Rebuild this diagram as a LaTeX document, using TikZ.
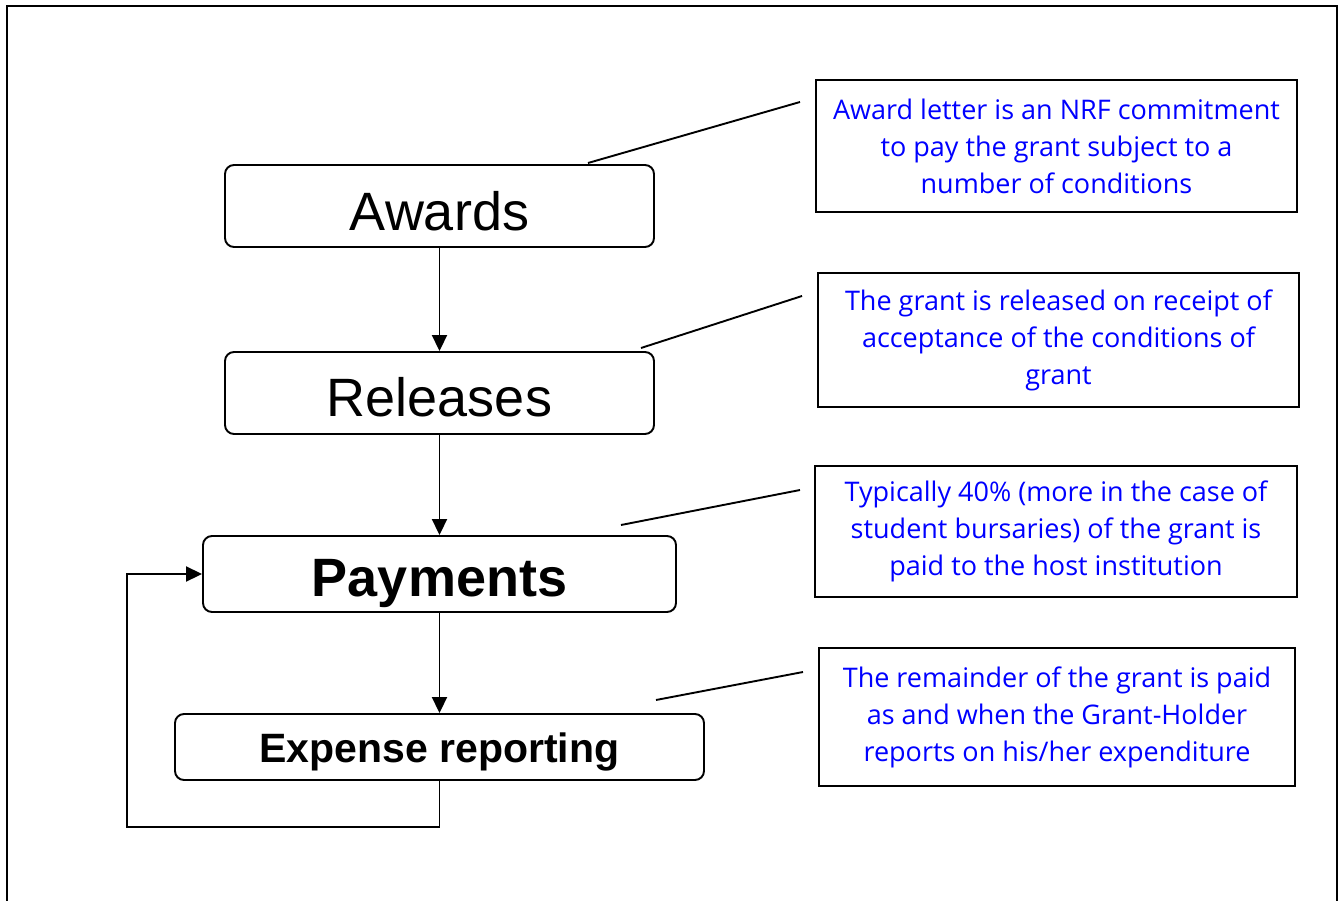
\documentclass[tikz,border=0pt]{standalone}
\usepackage{fontspec}
\setmainfont{Liberation Sans}
\newfontfamily\callfont{Open Sans}
\usetikzlibrary{arrows.meta}
\begin{document}
\begin{tikzpicture}[x=1pt,y=-1pt,
  mainbox/.style={draw, line width=1.9pt, rounded corners=9pt, inner sep=0pt, text depth=0pt},
  note/.style={draw, line width=1.9pt, inner sep=0pt, align=center, text=blue, font=\callfont\fontsize{27}{37}\selectfont},
  arr/.style={-{Triangle[length=16pt,width=15pt]}, line width=1.9pt},
  lead/.style={line width=1.9pt}]
\useasboundingbox (0,0) rectangle (1340,901);
\draw[line width=2.2pt] (7,910) -- (7,6) -- (1337,6) -- (1337,910);

\node[mainbox, minimum width=429pt, minimum height=82pt, text height=49pt, font=\fontsize{54}{60}\selectfont] (aw) at (439.5,206) {Awards};
\node[mainbox, minimum width=429pt, minimum height=82pt, text height=47pt, font=\fontsize{54}{60}\selectfont] (rel) at (439.5,393) {Releases};
\node[mainbox, minimum width=473pt, minimum height=76pt, text height=45pt, font=\bfseries\fontsize{54}{60}\selectfont] (pay) at (439.5,574) {Payments};
\node[mainbox, minimum width=529pt, minimum height=66pt, text height=30pt, font=\bfseries\fontsize{41}{48}\selectfont] (exp) at (439.5,747) {Expense reporting};

\draw[arr] (aw) -- (rel);
\draw[arr] (rel) -- (pay);
\draw[arr] (pay) -- (exp);
\coordinate (fb) at (127,827);
\draw[arr] (exp.south) |- (fb) |- (pay.west);

\node[note, minimum width=481pt, minimum height=132pt] (n1) at (1056.5,146) {Award letter is an NRF commitment\\to pay the grant subject to a\\number of conditions};
\node[note, minimum width=481pt, minimum height=134pt] (n2) at (1058.5,340) {The grant is released on receipt of\\acceptance of the conditions of\\grant};
\node[note, minimum width=482pt, minimum height=131pt] (n3) at (1056,531.5) {Typically 40\% (more in the case of\\student bursaries) of the grant is\\paid to the host institution};
\node[note, minimum width=476pt, minimum height=138pt] (n4) at (1057,717) {The remainder of the grant is paid\\as and when the Grant-Holder\\reports on his/her expenditure};

\coordinate (a1) at (588,163);  \coordinate (b1) at (800,102);
\coordinate (a2) at (641,348);  \coordinate (b2) at (802,296);
\coordinate (a3) at (621,525);  \coordinate (b3) at (800,490);
\coordinate (a4) at (656,700);  \coordinate (b4) at (803,672);
\draw[lead] (a1) -- (b1);
\draw[lead] (a2) -- (b2);
\draw[lead] (a3) -- (b3);
\draw[lead] (a4) -- (b4);
\end{tikzpicture}
\end{document}
